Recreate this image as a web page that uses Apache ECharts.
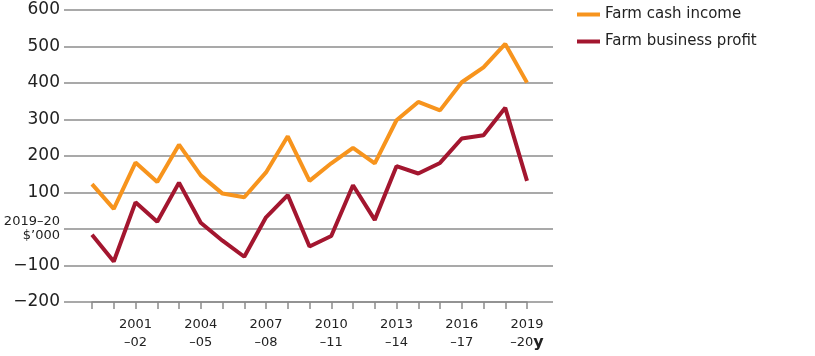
<!DOCTYPE html>
<html>
<head>
<meta charset="utf-8">
<script src="https://cdn.jsdelivr.net/npm/echarts@6/dist/echarts.min.js"></script>
<style>html,body{margin:0;padding:0;background:#fff}#c{width:815px;height:356px}</style>
</head>
<body>
<div id="c"></div>
<script>
const categories = ['1999–00','2000–01','2001–02','2002–03','2003–04','2004–05','2005–06','2006–07','2007–08','2008–09','2009–10','2010–11','2011–12','2012–13','2013–14','2014–15','2015–16','2016–17','2017–18','2018–19','2019–20'];
const farmCashIncome = [123, 55, 182, 129, 231, 147, 97, 87, 155, 254, 132, 180, 222, 180, 298, 348, 325, 402, 443, 507, 401];
const farmBusinessProfit = [-16, -89, 73, 20, 127, 17, -32, -76, 32, 93, -48, -19, 120, 25, 172, 152, 181, 248, 257, 332, 132];
const yTicks = {min: -200, max: 600, interval: 100};
const yUnitLabel = '2019–20\n$’000';
const seriesNames = ['Farm cash income', 'Farm business profit'];

const FONT = 'DejaVu Sans';
const chart = echarts.init(document.getElementById('c'), null, {renderer: 'canvas'});
const grid0 = {left: 64, right: 262, top: 10, bottom: 54};
const grid1 = {left: 92, right: 288, top: 10, bottom: 54};
chart.setOption({
  animation: false,
  backgroundColor: '#fff',
  textStyle: {fontFamily: FONT},
  legend: {
    orient: 'vertical', left: 577, top: 7, padding: 0,
    icon: 'rect', itemWidth: 23, itemHeight: 4, itemGap: 12, itemTextGap: 5,
    textStyle: {fontFamily: FONT, fontSize: 15, color: '#222'},
    data: seriesNames
  },
  grid: [
    Object.assign({containLabel: false}, grid0),
    Object.assign({containLabel: false}, grid1)
  ],
  xAxis: [
    {gridIndex: 0, type: 'value', min: 0, max: 1, show: false},
    {
      gridIndex: 1, type: 'category', data: categories, boundaryGap: false,
      axisLine: {show: true, onZero: false, lineStyle: {color: '#8c8c8c', width: 1.5}},
      axisTick: {show: true, interval: 0, length: 7, lineStyle: {color: '#8c8c8c', width: 1.5}},
      axisLabel: {
        interval: function (i) { return (i - 2) % 3 === 0; },
        margin: 14,
        formatter: function (v, i) {
          const p = v.split('–');
          if (i === categories.length - 1) return '{a|' + p[0] + '}\n{a|–' + p[1] + '}{y|y}';
          return '{a|' + p[0] + '}\n{a|–' + p[1] + '}';
        },
        rich: {
          a: {fontFamily: FONT, fontSize: 13, color: '#222', lineHeight: 18},
          y: {fontFamily: FONT, fontSize: 16, fontWeight: 'bold', color: '#222', lineHeight: 18}
        }
      }
    }
  ],
  yAxis: [
    {
      gridIndex: 0, type: 'value', min: yTicks.min, max: yTicks.max, interval: yTicks.interval,
      axisLine: {show: false}, axisTick: {show: false},
      splitLine: {show: true, lineStyle: {color: '#8c8c8c', width: 1.5}},
      axisLabel: {
        margin: 4,
        formatter: function (v) { return v === 0 ? '{u|' + yUnitLabel.replace('\n', '}\n{u|') + '}' : '{n|' + String(v).replace('-', '−') + '}'; },
        rich: {
          n: {fontFamily: FONT, fontSize: 17, color: '#222'},
          u: {fontFamily: FONT, fontSize: 13, color: '#222', lineHeight: 14}
        }
      }
    },
    {gridIndex: 1, type: 'value', min: yTicks.min, max: yTicks.max, interval: yTicks.interval, show: false, splitLine: {show: false}}
  ],
  series: [
    {name: seriesNames[0], type: 'line', xAxisIndex: 1, yAxisIndex: 1, data: farmCashIncome, symbol: 'none', color: '#f7941d', lineStyle: {width: 4, color: '#f7941d'}},
    {name: seriesNames[1], type: 'line', xAxisIndex: 1, yAxisIndex: 1, data: farmBusinessProfit, symbol: 'none', color: '#a3162f', lineStyle: {width: 4, color: '#a3162f'}}
  ]
});
</script>
</body>
</html>
